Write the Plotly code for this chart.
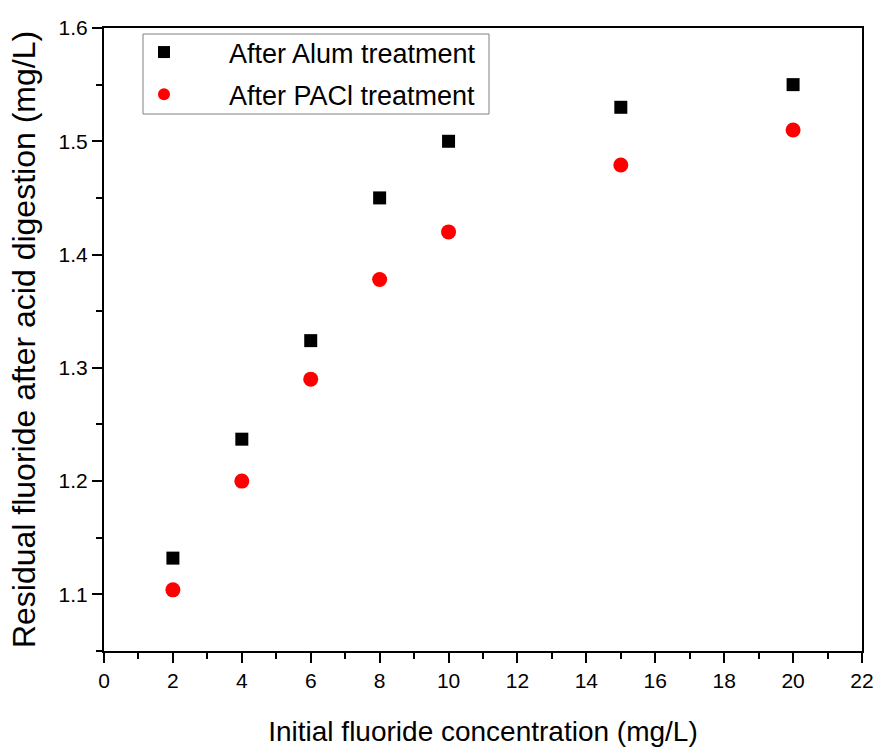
import plotly.graph_objects as go

x_conc = [2, 4, 6, 8, 10, 15, 20]
alum = [1.132, 1.237, 1.324, 1.450, 1.500, 1.530, 1.550]
pacl = [1.104, 1.200, 1.290, 1.378, 1.420, 1.479, 1.510]
series_names = ["After Alum treatment", "After PACl treatment"]

FONT = "Liberation Sans, Arial, sans-serif"
PAD = "\u00a0" * 6

fig = go.Figure()
fig.add_trace(go.Scatter(x=x_conc, y=alum, mode="markers", name=PAD + series_names[0],
                         legendgroup="a",
                         marker=dict(symbol="square", size=13, color="black")))
fig.add_trace(go.Scatter(x=x_conc, y=pacl, mode="markers", name=PAD + series_names[1],
                         legendgroup="b",
                         marker=dict(symbol="circle", size=15, color="#ff0000")))

axis_common = dict(showline=True, linecolor="black", linewidth=2, mirror=True,
                   ticks="outside", ticklen=10, tickwidth=2, tickcolor="black",
                   showgrid=False, zeroline=False, automargin=False,
                   tickfont=dict(family=FONT, size=21, color="black"))

# plot area in pixels: x 104..862, y 28..651
L, R, T, B = 104, 862, 28, 651
W, H = R - L, B - T

fig.update_layout(
    width=875, height=747,
    margin=dict(l=L, r=875 - R, t=T, b=747 - B),
    paper_bgcolor="white", plot_bgcolor="white",
    font=dict(family=FONT, color="black"),
    showlegend=True,
    legend=dict(x=(144 - L) / W, y=1 - (28 - T) / H, xanchor="left", yanchor="top",
                borderwidth=0, bgcolor="rgba(0,0,0,0)",
                font=dict(family=FONT, size=27, color="black"),
                itemsizing="constant", tracegroupgap=4),
    shapes=[dict(type="rect", xref="paper", yref="paper",
                 x0=(143 - L) / W, x1=(489 - L) / W,
                 y0=1 - (114 - T) / H, y1=1 - (34 - T) / H,
                 line=dict(color="#808080", width=1), fillcolor="rgba(0,0,0,0)", layer="below")],
    xaxis=dict(range=[0, 22], dtick=2, tick0=0,
               minor=dict(ticks="outside", ticklen=6, tickwidth=2, tickcolor="black", dtick=1),
               title=dict(text="Initial fluoride concentration (mg/L)",
                          font=dict(family=FONT, size=28, color="black"), standoff=33),
               **axis_common),
    yaxis=dict(range=[1.05, 1.6], dtick=0.1, tick0=1.1, tickformat=".1f",
               minor=dict(ticks="outside", ticklen=6, tickwidth=2, tickcolor="black", dtick=0.05, tick0=1.05),
               title=dict(text="Residual fluoride after acid digestion (mg/L)",
                          font=dict(family=FONT, size=32, color="black"), standoff=13),
               **axis_common),
)

fig.write_html("out.html")
